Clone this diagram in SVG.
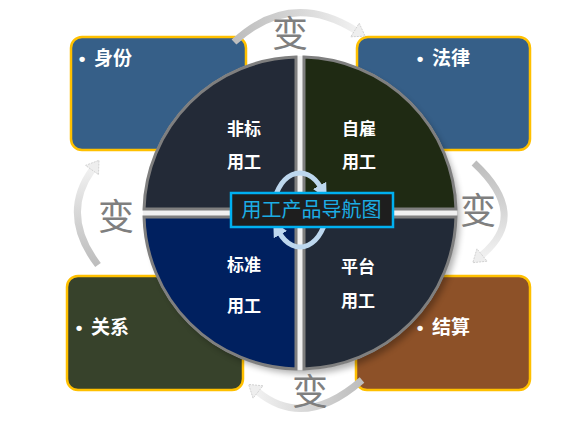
<svg xmlns="http://www.w3.org/2000/svg" width="583" height="445" viewBox="0 0 583 445">
<style>
.box{stroke:#FFC000;stroke-width:2.5}
.blabel{font-family:"Liberation Sans","Noto Sans CJK SC",sans-serif;font-size:19px;font-weight:bold;fill:#FFFFFF}
.quad{stroke:#7F7F7F;stroke-width:3}
.qlabel{font-family:"Noto Sans CJK SC",sans-serif;font-size:17px;font-weight:bold;fill:#FFFFFF;text-anchor:middle}
.bian{font-family:"Noto Sans CJK SC",sans-serif;font-size:36px;fill:#7F7F7F;text-anchor:middle}
.band{fill:none;stroke-width:7}
.head{fill:#EEEEEE;stroke:#C8C8C8;stroke-width:0.8;stroke-dasharray:2 1}
.cyc{fill:none;stroke:#BDD7EE;stroke-width:5}
</style>
<defs>
<filter id="blur" x="-20%" y="-20%" width="140%" height="140%"><feGaussianBlur stdDeviation="3"/></filter>
<marker id="cyc-head" viewBox="0 0 10 10" refX="2" refY="5" markerWidth="3" markerHeight="3" orient="auto"><path d="M0,0 L10,5 L0,10 z" fill="#BDD7EE"/></marker>
<linearGradient id="g-top" gradientUnits="userSpaceOnUse" x1="234" y1="42" x2="355" y2="30"><stop offset="0" stop-color="#BDBDBD"/><stop offset="0.5" stop-color="#D4D4D4"/><stop offset="1" stop-color="#F0F0F0"/></linearGradient>
<linearGradient id="g-right" gradientUnits="userSpaceOnUse" x1="474" y1="163" x2="482" y2="255"><stop offset="0" stop-color="#BDBDBD"/><stop offset="0.5" stop-color="#D4D4D4"/><stop offset="1" stop-color="#F0F0F0"/></linearGradient>
<linearGradient id="g-bottom" gradientUnits="userSpaceOnUse" x1="362" y1="380" x2="258" y2="392"><stop offset="0" stop-color="#BDBDBD"/><stop offset="0.5" stop-color="#D4D4D4"/><stop offset="1" stop-color="#F0F0F0"/></linearGradient>
<linearGradient id="g-left" gradientUnits="userSpaceOnUse" x1="98" y1="265" x2="92" y2="170"><stop offset="0" stop-color="#BDBDBD"/><stop offset="0.5" stop-color="#D4D4D4"/><stop offset="1" stop-color="#F0F0F0"/></linearGradient>
</defs>
<rect width="583" height="445" fill="#FFFFFF"/>

<g id="box-shenfen">
<rect class="box" x="71" y="37" width="175" height="113" rx="11" fill="#365F88"/>
<text class="blabel" y="65"><tspan x="78.7">•</tspan><tspan x="94">身份</tspan></text>
</g>
<g id="box-falv">
<rect class="box" x="357" y="37" width="173" height="113" rx="11" fill="#365F88"/>
<text class="blabel" y="65"><tspan x="416.7">•</tspan><tspan x="432">法律</tspan></text>
</g>
<g id="box-guanxi">
<rect class="box" x="67" y="276" width="176" height="114" rx="11" fill="#37422B"/>
<text class="blabel" y="334"><tspan x="75.7">•</tspan><tspan x="91">关系</tspan></text>
</g>
<g id="box-jiesuan">
<rect class="box" x="356" y="276" width="174" height="114" rx="11" fill="#8D5128"/>
<text class="blabel" y="334"><tspan x="416.7">•</tspan><tspan x="432">结算</tspan></text>
</g>

<circle cx="304" cy="218" r="156" fill="#000000" opacity="0.3" filter="url(#blur)"/>
<circle cx="300" cy="213" r="157" fill="#F0F0F0"/>

<g id="quad-feibiao">
<path class="quad" d="M296,209 V57.05 A156,156 0 0 0 144.05,209 Z" fill="#232A37"/>
<text class="qlabel" x="244" y="134.5">非标</text>
<text class="qlabel" x="244" y="167.5">用工</text>
</g>
<g id="quad-zigu">
<path class="quad" d="M304,209 V57.05 A156,156 0 0 1 455.95,209 Z" fill="#1F2A13"/>
<text class="qlabel" x="359" y="134.5">自雇</text>
<text class="qlabel" x="359" y="167.5">用工</text>
</g>
<g id="quad-biaozhun">
<path class="quad" d="M296,217 H144.05 A156,156 0 0 0 296,368.95 Z" fill="#00205F"/>
<text class="qlabel" x="244" y="270.5">标准</text>
<text class="qlabel" x="244" y="311.5">用工</text>
</g>
<g id="quad-pingtai">
<path class="quad" d="M304,217 V368.95 A156,156 0 0 0 455.95,217 Z" fill="#222A37"/>
<text class="qlabel" x="358" y="272.5">平台</text>
<text class="qlabel" x="358" y="306.5">用工</text>
</g>

<g id="center">
<path class="cyc" d="M273,210 A27,40 0 0 1 321,188" marker-end="url(#cyc-head)"/>
<path class="cyc" d="M327,210 A27,40 0 0 1 279,232" marker-end="url(#cyc-head)"/>
<rect x="231" y="193" width="162" height="34" fill="#1E1E1E" stroke="#00B0F0" stroke-width="2.5"/>
<text x="311.5" y="217" font-family="Noto Sans CJK SC,sans-serif" font-size="20" fill="#1CADE4" text-anchor="middle">用工产品导航图</text>
</g>

<g id="connectors">
<path class="band" d="M234,42 Q290,-10 355,30" stroke="url(#g-top)"/>
<polygon class="head" points="350.8,36.8 365.2,36.2 359.2,23.2"/>
<path class="band" d="M474,163 Q530,215 482,255" stroke="url(#g-right)"/>
<polygon class="head" points="487.1,261.2 472.8,262.7 476.9,248.8"/>
<path class="band" d="M362,380 Q305,430 258,392" stroke="url(#g-bottom)"/>
<polygon class="head" points="263,385.8 248.6,384.4 253,398.2"/>
<path class="band" d="M98,265 Q60,215 92,170" stroke="url(#g-left)"/>
<polygon class="head" points="98.5,174.6 99,160.3 85.5,165.4"/>
<text class="bian" x="290" y="47">变</text>
<text class="bian" x="478" y="224">变</text>
<text class="bian" x="310" y="405">变</text>
<text class="bian" x="116" y="230">变</text>
</g>
</svg>
